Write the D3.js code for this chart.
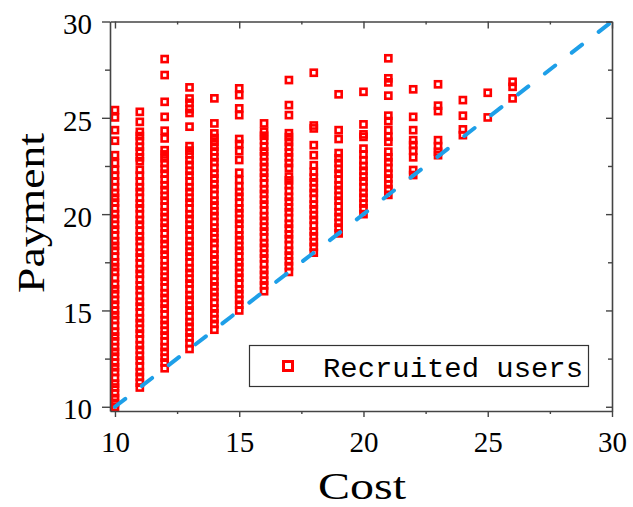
<!DOCTYPE html>
<html>
<head>
<meta charset="utf-8">
<script src="https://cdn.jsdelivr.net/npm/d3@7"></script>
<style>
  html, body { margin: 0; padding: 0; background: #fff; }
  svg { display: block; }
</style>
</head>
<body>
<svg id="chart" width="633" height="507"></svg>
<script>
// Payment offered to each recruited user, grouped by the user's cost
const costs = [10, 11, 12, 13, 14, 15, 16, 17, 18, 19, 20, 21, 22, 23, 24, 25, 26];

const pay10 = [10.0, 10.2, 10.45, 10.7, 11.0, 11.2, 11.5, 11.8, 12.05, 12.3, 12.6, 12.85, 13.1, 13.4, 13.65, 13.9, 14.2, 14.5, 14.75, 15.0, 15.3, 15.55, 15.85, 16.1, 16.35, 16.7, 17.0, 17.25, 17.5, 17.8, 18.1, 18.35, 18.6, 18.9, 19.2, 19.45, 19.75, 20.0, 20.3, 20.6, 20.85, 21.1, 21.4, 21.7, 22.0, 22.3, 22.65, 23.06, 23.81, 24.36, 25.02, 25.4];
const pay11 = [11.0, 11.25, 11.55, 11.8, 12.1, 12.4, 12.65, 12.95, 13.2, 13.5, 13.8, 14.05, 14.35, 14.6, 14.9, 15.2, 15.45, 15.75, 16.05, 16.3, 16.6, 16.9, 17.15, 17.45, 17.75, 18.0, 18.3, 18.6, 18.85, 19.15, 19.45, 19.7, 20.0, 20.3, 20.55, 20.85, 21.15, 21.4, 21.7, 22.0, 22.3, 22.75, 22.95, 23.25, 23.5, 23.8, 24.05, 24.27, 24.79, 25.31];
const pay12 = [12.0, 12.3, 12.55, 12.85, 13.1, 13.4, 13.7, 13.95, 14.25, 14.5, 14.8, 15.1, 15.35, 15.65, 15.9, 16.2, 16.5, 16.75, 17.05, 17.3, 17.6, 17.9, 18.15, 18.45, 18.7, 19.0, 19.3, 19.55, 19.85, 20.1, 20.4, 20.7, 20.95, 21.25, 21.5, 21.8, 22.1, 22.35, 22.65, 22.9, 23.1, 23.32, 23.93, 24.33, 25.05, 25.83, 27.22, 28.05];
const pay13 = [13.0, 13.3, 13.6, 13.85, 14.15, 14.4, 14.7, 15.0, 15.25, 15.55, 15.8, 16.1, 16.4, 16.65, 16.95, 17.2, 17.5, 17.8, 18.05, 18.35, 18.6, 18.9, 19.2, 19.45, 19.75, 20.0, 20.3, 20.6, 20.85, 21.15, 21.4, 21.7, 22.0, 22.25, 22.55, 22.8, 23.1, 23.3, 23.53, 24.54, 25.25, 25.45, 25.78, 26.0, 26.58];
const pay14 = [14.0, 14.3, 14.55, 14.85, 15.1, 15.4, 15.7, 15.95, 16.25, 16.5, 16.8, 17.1, 17.35, 17.65, 17.9, 18.2, 18.5, 18.75, 19.05, 19.3, 19.6, 19.9, 20.15, 20.45, 20.7, 21.0, 21.3, 21.55, 21.85, 22.1, 22.4, 22.7, 22.95, 23.25, 23.5, 23.75, 23.95, 24.19, 24.71, 26.01];
const pay15 = [15.0, 15.3, 15.55, 15.85, 16.1, 16.4, 16.7, 16.95, 17.25, 17.5, 17.8, 18.1, 18.35, 18.65, 18.9, 19.2, 19.5, 19.75, 20.05, 20.3, 20.6, 20.9, 21.15, 21.45, 21.77, 22.15, 22.81, 23.27, 23.64, 23.9, 25.14, 25.49, 26.18, 26.53];
const pay16 = [16.0, 16.3, 16.55, 16.85, 17.1, 17.4, 17.7, 17.95, 18.25, 18.5, 18.8, 19.1, 19.35, 19.65, 19.9, 20.2, 20.5, 20.75, 21.05, 21.3, 21.6, 21.9, 22.15, 22.45, 22.7, 23.0, 23.25, 23.5, 23.84, 24.07, 24.28, 24.71];
const pay17 = [17.0, 17.3, 17.55, 17.85, 18.1, 18.4, 18.7, 18.95, 19.25, 19.5, 19.8, 20.1, 20.35, 20.65, 20.9, 21.2, 21.5, 21.75, 21.95, 22.4, 22.65, 22.95, 23.2, 23.5, 23.75, 24.0, 24.2, 25.14, 25.66, 26.96];
const pay18 = [18.0, 18.3, 18.55, 18.85, 19.1, 19.4, 19.7, 19.95, 20.25, 20.5, 20.8, 21.1, 21.35, 21.65, 21.9, 22.2, 22.54, 23.06, 23.58, 24.45, 24.6, 27.34];
const pay19 = [19.0, 19.3, 19.55, 19.85, 20.1, 20.4, 20.7, 20.95, 21.25, 21.5, 21.8, 22.1, 22.35, 22.65, 22.9, 23.17, 23.9, 24.36, 26.22];
const pay20 = [20.0, 20.3, 20.55, 20.85, 21.1, 21.4, 21.7, 21.95, 22.25, 22.5, 22.8, 23.1, 23.4, 24.01, 24.14, 24.66, 26.35];
const pay21 = [21.0, 21.3, 21.55, 21.85, 22.1, 22.4, 22.7, 22.95, 23.24, 23.76, 24.02, 24.36, 24.83, 25.11, 26.15, 26.84, 27.05, 28.09];
const pay22 = [22.03, 22.29, 22.95, 23.29, 23.58, 23.84, 24.36, 25.05, 26.48];
const pay23 = [23.06, 23.24, 23.53, 23.84, 25.35, 25.63, 26.74];
const pay24 = [24.1, 24.4, 25.11, 25.92];
const pay25 = [25.02, 26.3];
const pay26 = [26.01, 26.61, 26.87];

const payments = [pay10, pay11, pay12, pay13, pay14, pay15, pay16, pay17, pay18, pay19, pay20, pay21, pay22, pay23, pay24, pay25, pay26];

const xTicks = [10, 15, 20, 25, 30];
const yTicks = [10, 15, 20, 25, 30];
const minorTicks = [12.5, 17.5, 22.5, 27.5];
const legendLabel = "Recruited users";
const xTitle = "Cost";
const yTitle = "Payment";

// flatten into points
const points = [];
costs.forEach((c, i) => payments[i].forEach(p => points.push({ cost: c, pay: p })));

const svg = d3.select("#chart");
const plotLeft = 110, plotRight = 612, plotTop = 21.5, plotBottom = 411;

const x = d3.scaleLinear().domain([9.8, 30]).range([plotLeft, plotRight]);
const y = d3.scaleLinear().domain([9.78, 30]).range([plotBottom, plotTop]);

const red = "#ff0000";
const blue = "#1e9fe8";
const axisColor = "#444";
const tickFont = "'Liberation Serif', 'Times New Roman', serif";

// scatter markers (hollow squares)
const s = 6.1;
svg.append("g")
  .selectAll("rect")
  .data(points)
  .join("rect")
  .attr("x", d => x(d.cost) - s / 2)
  .attr("y", d => y(d.pay) - s / 2)
  .attr("width", s)
  .attr("height", s)
  .attr("fill", "none")
  .attr("stroke", red)
  .attr("stroke-width", 2.6);

// payment = cost reference line
svg.append("line")
  .attr("x1", x(10)).attr("y1", y(10))
  .attr("x2", x(30)).attr("y2", y(30))
  .attr("stroke", blue)
  .attr("stroke-width", 4)
  .attr("stroke-linecap", "round")
  .attr("stroke-dasharray", "13 21");

// axes
function styleAxis(g) {
  g.select(".domain").attr("stroke", axisColor).attr("stroke-width", 1.6);
  g.selectAll(".tick line").attr("stroke", axisColor).attr("stroke-width", 1.4);
  g.selectAll(".tick text")
    .attr("fill", "#000")
    .style("font-family", tickFont)
    .style("font-size", "29px");
}

// major ticks
const gB = svg.append("g").attr("transform", `translate(0,${plotBottom})`)
  .call(d3.axisBottom(x).tickValues(xTicks).tickSize(6).tickSizeOuter(0).tickPadding(14));
styleAxis(gB);
const gL = svg.append("g").attr("transform", `translate(${plotLeft},0)`)
  .call(d3.axisLeft(y).tickValues(yTicks).tickSize(8).tickSizeOuter(0).tickPadding(10));
styleAxis(gL);
gL.selectAll(".tick text").attr("dy", "0.42em");
const gT = svg.append("g").attr("transform", `translate(0,${plotTop})`)
  .call(d3.axisTop(x).tickValues(xTicks).tickSize(-7).tickSizeOuter(0).tickFormat(""));
styleAxis(gT);
const gR = svg.append("g").attr("transform", `translate(${plotRight},0)`)
  .call(d3.axisRight(y).tickValues(yTicks).tickSize(-6).tickSizeOuter(0).tickFormat(""));
styleAxis(gR);

// minor ticks
function minor(axis, transform) {
  const g = svg.append("g").attr("transform", transform)
    .call(axis.tickValues(minorTicks).tickSizeOuter(0).tickFormat(""));
  g.select(".domain").remove();
  g.selectAll(".tick line").attr("stroke", axisColor).attr("stroke-width", 1.4);
}
minor(d3.axisBottom(x).tickSize(3), `translate(0,${plotBottom})`);
minor(d3.axisTop(x).tickSize(-3), `translate(0,${plotTop})`);
minor(d3.axisLeft(y).tickSize(5), `translate(${plotLeft},0)`);
minor(d3.axisRight(y).tickSize(-4), `translate(${plotRight},0)`);

// axis titles
svg.append("text")
  .attr("x", 362).attr("y", 499)
  .attr("text-anchor", "middle")
  .attr("textLength", 88)
  .attr("lengthAdjust", "spacingAndGlyphs")
  .style("font-family", tickFont)
  .style("font-size", "38px")
  .text(xTitle);

svg.append("text")
  .attr("transform", "translate(44,213) rotate(-90)")
  .attr("text-anchor", "middle")
  .attr("textLength", 160)
  .attr("lengthAdjust", "spacingAndGlyphs")
  .style("font-family", tickFont)
  .style("font-size", "37px")
  .text(yTitle);

// legend
const lg = svg.append("g");
lg.append("rect")
  .attr("x", 249.5).attr("y", 345.5)
  .attr("width", 339).attr("height", 41)
  .attr("fill", "#fff")
  .attr("stroke", "#333")
  .attr("stroke-width", 1.2);
lg.append("rect")
  .attr("x", 283.5).attr("y", 361.5)
  .attr("width", 9).attr("height", 9)
  .attr("fill", "none")
  .attr("stroke", red)
  .attr("stroke-width", 3);
lg.append("text")
  .attr("x", 323).attr("y", 377)
  .attr("textLength", 260)
  .attr("lengthAdjust", "spacingAndGlyphs")
  .style("font-family", "'Liberation Mono', 'DejaVu Sans Mono', monospace")
  .style("font-size", "28px")
  .text(legendLabel);
</script>
</body>
</html>
